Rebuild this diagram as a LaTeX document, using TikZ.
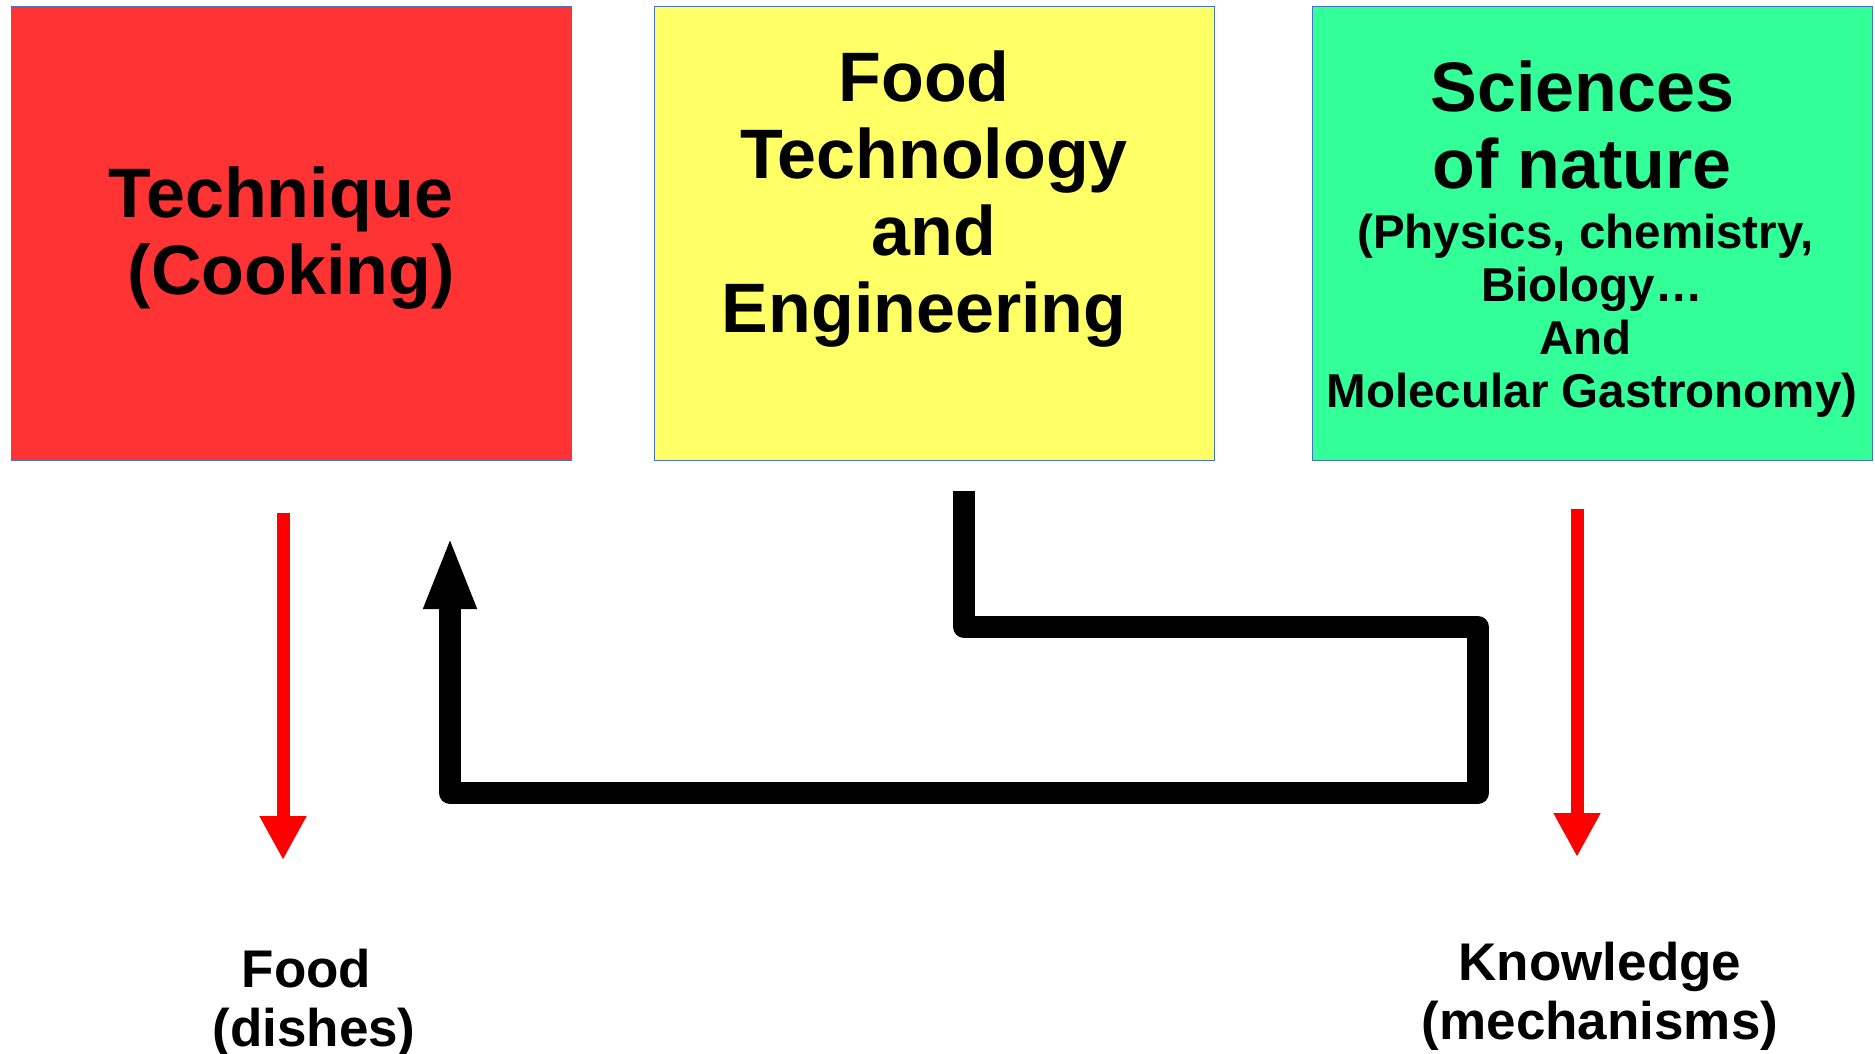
\documentclass[tikz,border=0pt]{standalone}
\usepackage{fontspec}
\setmainfont{Liberation Sans}
\usetikzlibrary{arrows.meta}
\definecolor{boxblue}{HTML}{4472C4}
\definecolor{boxred}{HTML}{FF3333}
\definecolor{boxyellow}{HTML}{FFFF66}
\definecolor{boxgreen}{HTML}{33FF99}
\definecolor{arrred}{HTML}{FF0000}
\begin{document}
\begin{tikzpicture}[x=0.5pt,y=-0.5pt,
  box/.style={draw=boxblue, line width=0.6pt, minimum width=280pt, minimum height=227pt, inner sep=0pt, anchor=north west},
  bigtext/.style={anchor=base, inner sep=0pt, align=flush center, text width=300pt, font=\bfseries\fontsize{35}{38.5}\selectfont},
  labeltext/.style={anchor=base, inner sep=0pt, align=flush center, text width=250pt, font=\bfseries\fontsize{26.5}{29.5}\selectfont},
  redarrow/.style={draw=arrred, line width=6.5pt, -{Triangle[width=22pt,length=22pt]}},
  conn/.style={draw=black, line width=11pt, line join=round, line cap=butt, -{Triangle[width=24pt,length=36.5pt]}}
]
\useasboundingbox (0,0) rectangle (1875,1054);
% boxes
\node[box, fill=boxred] (tech) at (11,6) {};
\node[box, fill=boxyellow] (foodtech) at (654,6) {};
\node[box, fill=boxgreen] (sci) at (1312,6) {};
% box texts
\node[bigtext] (techtxt) at (291,218) {Technique\kern.28em\\(Cooking)};
\node[bigtext] (fttxt) at (934,102) {Food\kern.28em\\Technology\\and\\Engineering\kern.28em};
\node[bigtext] (scitxt) at (1592,112) {Sciences\kern.28em\\of nature\kern.28em\par\vspace{3.5pt}{\fontsize{23.75}{26.5}\selectfont (Physics, chemistry,\kern.28em\\Biology…\\And\kern.28em\\Molecular Gastronomy)\par}};
% bottom labels
\node[labeltext] (foodlbl) at (314,987) {Food\kern.28em\\(dishes)};
\node[labeltext] (knowlbl) at (1600,980) {Knowledge\\(mechanisms)};
% red arrows
\coordinate (ra1) at (283,513);
\coordinate (ra2) at (283,860);
\coordinate (rb1) at (1577,509);
\coordinate (rb2) at (1577,857);
\draw[redarrow] (ra1) -- (ra2);
\draw[redarrow] (rb1) -- (rb2);
% black connector
\coordinate (bk0) at (964,491);
\coordinate (bk1) at (1478,627);
\coordinate (bk2) at (1478,793);
\coordinate (bk4) at (450,536);
\draw[conn] (bk0) |- (bk1) -- (bk2) -| (bk4);
\end{tikzpicture}
\end{document}
